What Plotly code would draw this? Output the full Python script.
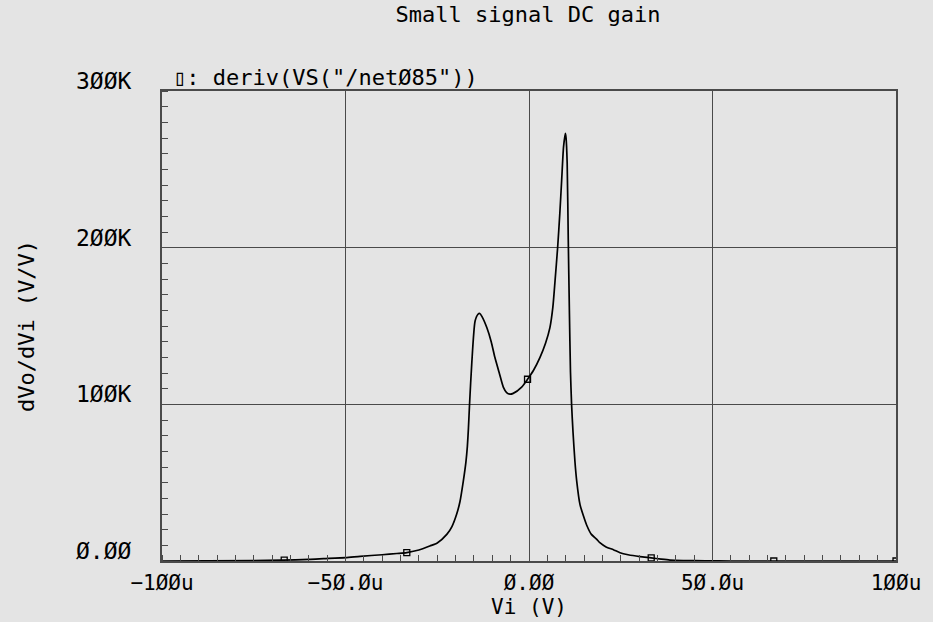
import plotly.graph_objects as go

# Curve: Vi in microvolts, gain in V/V
vi_u = [-100, -75, -67, -60, -56, -50, -46, -40, -36, -33.3, -30, -27, -25, -22.4, -21,
        -19.7, -18.8, -17.9, -17.2, -16.8, -16.5, -16.2, -15.6, -14.7, -13.9, -13.4, -12.8, -11.5,
        -10.3, -9.3, -8.1, -7.0, -6.1, -5.2, -4.3, -2.0, -0.4, 1.2, 3.0, 4.5, 5.7, 6.5, 7.1,
        7.8, 8.4, 8.9, 9.4, 9.9, 10.1, 10.4, 10.7, 11.0, 11.3, 11.6, 12.0, 12.5, 13.0, 13.9,
        14.8, 15.7, 17.0, 18.4, 19.3, 21.0, 23.0, 24.8, 27.0, 30.2, 33.3, 36.0, 38.4, 42.0,
        48.0, 55.0, 67.0, 100]
gain_k = [0.0, 0.3, 0.6, 1.0, 1.5, 2.2, 3.0, 4.0, 4.8, 5.4, 7.0, 9.6, 11.5, 17, 22,
          30, 38, 51, 63, 73, 85, 100, 126, 153, 157.5, 158, 156, 149,
          140, 130, 120, 111, 107.5, 106.5, 107, 111, 116, 121.6, 130, 139, 149, 162, 179,
          200, 222, 243, 264, 273, 270, 254, 205, 160, 121, 100, 82, 64, 51, 36,
          29, 23, 17, 14, 11.7, 9, 7.2, 5.3, 4.0, 2.8, 2.0, 1.2, 0.6, 0.3,
          0.1, 0.0, 0.0, 0.0]

# Plot markers placed along the curve
marker_x_u = [-66.7, -33.3, -0.4, 33.3, 66.7, 100]
marker_y_k = [0.5, 5.4, 116, 2.0, 0.0, 0.0]

x_tickvals = [-100, -50, 0, 50, 100]
x_ticktext = ["\u22121\u00d8\u00d8u", "\u22125\u00d8.\u00d8u", "\u00d8.\u00d8\u00d8", "5\u00d8.\u00d8u", "1\u00d8\u00d8u"]
y_tickvals = [0, 100000, 200000, 300000]
y_ticktext = ["\u00d8.\u00d8\u00d8", "1\u00d8\u00d8K", "2\u00d8\u00d8K", "3\u00d8\u00d8K"]

title_text = "Small signal DC gain"
legend_text = "deriv(VS(\"/net\u00d885\"))"
x_title = "Vi (V)"
y_title = "dVo/dVi (V/V)"

BG = "#e4e4e4"
GRID = "#4a4a4a"
FONT = "DejaVu Sans Mono"

fig = go.Figure()
fig.add_trace(go.Scatter(
    x=vi_u, y=[v * 1000 for v in gain_k], mode="lines",
    line=dict(color="black", width=1.7, shape="spline", smoothing=0.6),
    name=legend_text, showlegend=False, hoverinfo="skip"))
fig.add_trace(go.Scatter(
    x=marker_x_u, y=[v * 1000 for v in marker_y_k], mode="markers",
    marker=dict(symbol="square-open", size=6, color="black", line=dict(width=1.3)),
    showlegend=False, hoverinfo="skip"))

fig.update_layout(
    width=933, height=622,
    paper_bgcolor=BG, plot_bgcolor=BG,
    margin=dict(l=162, r=37, t=91, b=61),
    font=dict(family=FONT, size=22, color="black"),
    title=dict(text=title_text, x=0.566, xanchor="center", y=0.977, yanchor="middle",
               font=dict(family=FONT, size=22, color="black")),
    xaxis=dict(
        range=[-100, 100], tickvals=x_tickvals, ticktext=x_ticktext,
        showgrid=True, gridcolor=GRID, gridwidth=1.2,
        showline=True, linecolor=GRID, linewidth=2, mirror=True,
        zeroline=False, ticks="", ticklabelstandoff=2, automargin=False,
        minor=dict(dtick=5, ticks="inside", ticklen=6, tickcolor=GRID, tickwidth=1, showgrid=False),
        title=dict(text=x_title, standoff=0, font=dict(size=21)),
        tickfont=dict(size=21),
    ),
    yaxis=dict(
        range=[0, 300000], tickvals=y_tickvals, ticktext=y_ticktext,
        showgrid=True, gridcolor=GRID, gridwidth=1.2,
        showline=True, linecolor=GRID, linewidth=2, mirror=True,
        zeroline=False, ticks="", ticklabelposition="outside top",
        ticklabelstandoff=24, ticklabelshift=6, automargin=False,
        minor=dict(dtick=10000, ticks="inside", ticklen=6, tickcolor=GRID, tickwidth=1, showgrid=False),
        title=dict(text=y_title, standoff=35, font=dict(size=22)),
        tickfont=dict(size=23),
    ),
    annotations=[dict(
        xref="paper", yref="paper", x=0.012, y=1.028, xanchor="left", yanchor="middle",
        text="\u25af: " + legend_text, showarrow=False, font=dict(family=FONT, size=22, color="black"))],
)

fig.write_html("out.html", config={"displayModeBar": False},
               post_script="document.body.style.margin='0';")
